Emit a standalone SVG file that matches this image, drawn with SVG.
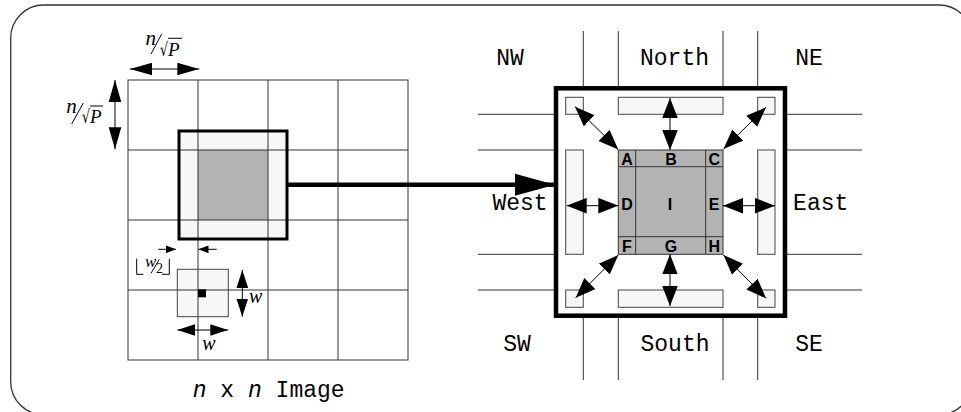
<svg xmlns="http://www.w3.org/2000/svg" width="961" height="412" viewBox="0 0 961 412">
<defs>
<style>
.grid{stroke:#333;stroke-width:1;fill:none}
.light{fill:#f7f7f7;stroke:#444;stroke-width:1}
.gray{fill:#b3b3b3;stroke:#333;stroke-width:1}
.thick{fill:none;stroke:#000;stroke-width:3}
.conn{stroke:#000;stroke-width:1;fill:none}
.mono{font-family:"Liberation Mono","Courier New",monospace;font-size:23px;fill:#000}
.cell{font-family:"Liberation Sans",Arial,sans-serif;font-weight:bold;font-size:16px;fill:#000;text-anchor:middle}
.math{font-family:"Liberation Serif","Times New Roman",serif;font-style:italic;fill:#000}
.rad{font-family:"DejaVu Sans",sans-serif;fill:#000}
.mline{stroke:#000;stroke-width:1;fill:none}
</style>
<marker id="big" markerUnits="userSpaceOnUse" markerWidth="20" markerHeight="16" refX="18" refY="7" orient="auto-start-reverse" viewBox="0 0 18 14"><path d="M0,0 L18,7 L0,14 Z" fill="#000"/></marker>
<marker id="dim" markerUnits="userSpaceOnUse" markerWidth="22" markerHeight="14" refX="21" refY="6" orient="auto-start-reverse" viewBox="0 0 21 12"><path d="M0,0 L21,6 L0,12 Z" fill="#000"/></marker>
<marker id="win" markerUnits="userSpaceOnUse" markerWidth="18" markerHeight="12" refX="17" refY="5.5" orient="auto-start-reverse" viewBox="0 0 17 11"><path d="M0,0 L17,5.5 L0,11 Z" fill="#000"/></marker>
<marker id="small" markerUnits="userSpaceOnUse" markerWidth="10" markerHeight="8" refX="9" refY="3.5" orient="auto" viewBox="0 0 9 7"><path d="M0,0 L9,3.5 L0,7 Z" fill="#000"/></marker>
<marker id="main" markerUnits="userSpaceOnUse" markerWidth="40" markerHeight="23" refX="38" refY="10.5" orient="auto" viewBox="0 0 38 21"><path d="M0,0 L38,10.5 L0,21 Z" fill="#000"/></marker>
</defs>

<rect x="10.7" y="5" width="961.3" height="409.7" rx="33" ry="33" fill="#fff" stroke="#333" stroke-width="1.3"/>

<!-- Left: n x n image -->
<g id="image">
  <rect x="179" y="131" width="108" height="108" fill="#f7f7f7"/>
  <rect x="198" y="150" width="70" height="70" fill="#b3b3b3"/>
  <rect x="177.3" y="269.3" width="51" height="47.4" class="light"/>
  <g class="grid">
    <rect x="128" y="80" width="280" height="280"/>
    <line x1="198" y1="80" x2="198" y2="360"/>
    <line x1="268" y1="80" x2="268" y2="360"/>
    <line x1="338" y1="80" x2="338" y2="360"/>
    <line x1="128" y1="150" x2="408" y2="150"/>
    <line x1="128" y1="220" x2="408" y2="220"/>
    <line x1="128" y1="290" x2="408" y2="290"/>
  </g>
  <rect x="179" y="131" width="108" height="108" class="thick"/>
  <rect x="198" y="289.3" width="8" height="8" fill="#000"/>
  <text class="mono" x="268.7" y="396.7" text-anchor="middle"><tspan font-style="italic">n</tspan> x <tspan font-style="italic">n</tspan> Image</text>
</g>

<!-- dimension labels -->
<g id="dim-top">
  <text class="math" x="145.5" y="45" font-size="21">n</text>
  <line class="mline" x1="151" y1="54" x2="161.7" y2="34"/>
  <text class="rad" x="160" y="56" font-size="18" transform="translate(160 56) scale(0.7 1) translate(-160 -56)">√</text>
  <line class="mline" x1="168" y1="38.3" x2="182" y2="38.3"/>
  <text class="math" x="168" y="55.7" font-size="19">P</text>
</g>
<g id="dim-left">
  <text class="math" x="66.2" y="113" font-size="21">n</text>
  <line class="mline" x1="71.7" y1="124" x2="83.3" y2="103"/>
  <text class="rad" x="82" y="123.5" font-size="18" transform="translate(82 123.5) scale(0.7 1) translate(-82 -123.5)">√</text>
  <line class="mline" x1="90" y1="106" x2="103" y2="106"/>
  <text class="math" x="90" y="123" font-size="19">P</text>
</g>
<g id="dim-half">
  <polyline class="mline" points="143.3,274.3 136.7,274.3 136.7,258.7"/>
  <polyline class="mline" points="162,274.3 169.3,274.3 169.3,258.7"/>
  <text class="math" x="145" y="266.5" font-size="17">w</text>
  <line class="mline" x1="151" y1="273.3" x2="159.3" y2="259.3"/>
  <text x="156" y="273" font-family="'Liberation Serif',serif" font-size="14" fill="#000">2</text>
</g>
<text class="math" x="249" y="302.7" font-size="20">w</text>
<text class="math" x="202.3" y="350" font-size="20">w</text>

<!-- Right: processor neighbourhood -->
<g id="neighbourhood">
  <g class="grid">
    <line x1="583.3" y1="31" x2="583.3" y2="380"/>
    <line x1="618.3" y1="31" x2="618.3" y2="380"/>
    <line x1="723" y1="31" x2="723" y2="380"/>
    <line x1="757.7" y1="31" x2="757.7" y2="380"/>
    <line x1="478" y1="114.3" x2="862" y2="114.3"/>
    <line x1="478" y1="150" x2="862" y2="150"/>
    <line x1="478" y1="254.3" x2="862" y2="254.3"/>
    <line x1="478" y1="290" x2="862" y2="290"/>
  </g>
  <rect x="556" y="88.3" width="229" height="227.4" fill="#fff" stroke="#000" stroke-width="4.5"/>
</g>
<g id="halo-nw"><rect class="light" x="565.7" y="97.3" width="17.6" height="17"/></g>
<g id="halo-n"><rect class="light" x="618.3" y="97.3" width="104.7" height="17"/></g>
<g id="halo-ne"><rect class="light" x="757.7" y="97.3" width="17.3" height="17"/></g>
<g id="halo-w"><rect class="light" x="565.7" y="150" width="17.6" height="104.3"/></g>
<g id="halo-e"><rect class="light" x="757.7" y="150" width="17.3" height="104.3"/></g>
<g id="halo-sw"><rect class="light" x="565.7" y="290" width="17.6" height="17.3"/></g>
<g id="halo-s"><rect class="light" x="618.3" y="290" width="104.7" height="17.3"/></g>
<g id="halo-se"><rect class="light" x="757.7" y="290" width="17.3" height="17.3"/></g>

<g id="block">
  <rect class="gray" x="618.3" y="150" width="104.7" height="104.3"/>
  <line class="grid" x1="635.7" y1="150" x2="635.7" y2="254.3"/>
  <line class="grid" x1="705.7" y1="150" x2="705.7" y2="254.3"/>
  <line class="grid" x1="618.3" y1="166.7" x2="723" y2="166.7"/>
  <line class="grid" x1="618.3" y1="236.7" x2="723" y2="236.7"/>
  <text class="cell" x="627" y="164.5">A</text>
  <text class="cell" x="671" y="164.5">B</text>
  <text class="cell" x="714.3" y="164.5">C</text>
  <text class="cell" x="627" y="210">D</text>
  <text class="cell" x="670" y="210">I</text>
  <text class="cell" x="714" y="210">E</text>
  <text class="cell" x="627" y="252">F</text>
  <text class="cell" x="671" y="252">G</text>
  <text class="cell" x="714.3" y="252">H</text>
</g>

<g id="labels" class="mono" text-anchor="middle">
  <text x="510" y="65">NW</text>
  <text x="674.5" y="65">North</text>
  <text x="809" y="65">NE</text>
  <text x="520" y="210">West</text>
  <text x="820.7" y="210">East</text>
  <text x="517" y="350.7">SW</text>
  <text x="675" y="350.7">South</text>
  <text x="809" y="350.7">SE</text>
</g>

<g id="connectors">
  <line class="conn" x1="130" y1="69" x2="199.3" y2="69" marker-start="url(#dim)" marker-end="url(#dim)"/>
  <line class="conn" x1="115" y1="80" x2="115" y2="149.3" marker-start="url(#dim)" marker-end="url(#dim)"/>
  <line class="conn" x1="158.3" y1="249.3" x2="176" y2="249.3" marker-end="url(#small)"/>
  <line class="conn" x1="216.7" y1="249.3" x2="198.5" y2="249.3" marker-end="url(#small)"/>
  <line class="conn" x1="242.3" y1="270" x2="242.3" y2="316.7" marker-start="url(#win)" marker-end="url(#win)"/>
  <line class="conn" x1="177.3" y1="330" x2="228.3" y2="330" marker-start="url(#win)" marker-end="url(#win)"/>
  <line x1="287" y1="184.7" x2="555" y2="184.7" stroke="#000" stroke-width="4.5" marker-end="url(#main)"/>
  <line class="conn" x1="670" y1="98" x2="670" y2="150" marker-start="url(#big)" marker-end="url(#big)"/>
  <line class="conn" x1="670" y1="254.3" x2="670" y2="306" marker-start="url(#big)" marker-end="url(#big)"/>
  <line class="conn" x1="566.7" y1="205.7" x2="618.3" y2="205.7" marker-start="url(#big)" marker-end="url(#big)"/>
  <line class="conn" x1="723" y1="205.7" x2="775" y2="205.7" marker-start="url(#big)" marker-end="url(#big)"/>
  <line class="conn" x1="575" y1="106.7" x2="618.3" y2="149.5" marker-start="url(#big)" marker-end="url(#big)"/>
  <line class="conn" x1="766" y1="107.3" x2="723.5" y2="149" marker-start="url(#big)" marker-end="url(#big)"/>
  <line class="conn" x1="618.3" y1="255" x2="575.7" y2="297.7" marker-start="url(#big)" marker-end="url(#big)"/>
  <line class="conn" x1="723.5" y1="255" x2="766" y2="298.3" marker-start="url(#big)" marker-end="url(#big)"/>
</g>
</svg>
